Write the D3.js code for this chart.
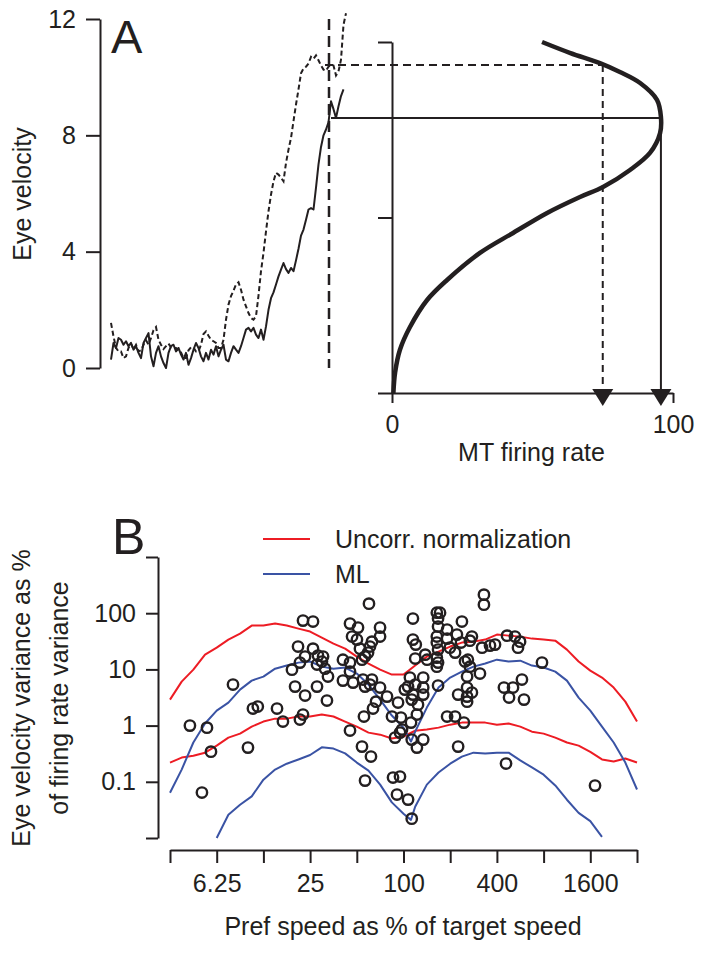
<!DOCTYPE html>
<html><head><meta charset="utf-8">
<script src="https://cdn.jsdelivr.net/npm/d3@7/dist/d3.min.js"></script>
<style>
body{margin:0;background:#fff}
svg text{font-family:"Liberation Sans",Arial,Helvetica,sans-serif;fill:#231f20}
</style>
</head><body>
<svg id="chart" width="704" height="954"></svg>
<script>
// ---------------- Panel A data ----------------
const sampleStepMs = 2.5;           // eye-velocity samples every 2.5 ms
const solidVelocity = [0.29,0.86,0.69,1.03,0.97,0.80,0.92,0.75,0.86,0.63,0.75,0.52,0.34,0.86,1.03,1.20,0.40,0.06,0.52,0.75,
  0.40,0.17,0.00,0.52,0.75,0.80,0.57,0.69,0.46,0.29,0.52,0.11,0.34,0.63,0.86,0.69,0.40,0.23,0.52,0.29,
  0.63,0.46,0.75,0.40,0.63,0.80,0.29,0.23,0.52,0.75,0.63,0.52,0.75,1.03,1.32,1.38,1.26,1.38,1.15,1.03,
  1.32,0.97,1.43,2.00,2.40,2.60,2.87,3.15,3.38,3.61,3.40,3.27,3.44,3.33,3.70,4.10,4.55,4.76,5.10,5.45,
  5.50,5.45,6.20,7.00,7.60,8.00,8.20,8.45,9.17,8.90,8.60,9.00,9.35,9.58];
const dashedVelocity = [1.55,1.09,0.69,0.57,0.57,0.34,0.40,0.69,0.84,0.65,0.80,0.57,0.61,0.80,0.95,0.80,1.03,1.30,1.41,0.97,
  0.80,0.65,0.75,0.84,0.71,0.69,0.69,0.60,0.54,0.34,0.34,0.61,0.71,0.71,0.57,0.57,0.80,1.17,1.26,1.11,
  0.97,0.92,0.86,0.69,0.69,0.97,1.66,2.18,2.47,2.66,2.87,2.95,2.69,2.35,2.12,1.89,1.72,1.66,1.78,2.49,
  3.33,3.96,4.70,5.39,5.96,6.42,6.71,6.65,6.54,6.42,7.05,7.51,7.91,8.49,9.06,9.58,10.13,10.30,10.36,10.47,
  10.70,10.63,10.75,10.58,10.40,10.26,10.22,10.36,10.42,10.40,10.06,10.20,10.60,11.80,12.20];
const velocityTicks = [0, 4, 8, 12];
const readoutTimeMs = 218;
const solidReadout = {velocity: 8.6, rate: 95.7};
const dashedReadout = {velocity: 10.42, rate: 75};
const tuningRate  = [0.5, 1.1, 2.8, 6.4, 12.5, 19.6, 31.3, 43.1, 55.2, 66.9, 75.1, 84.7, 91.8, 95.4, 95.7, 94.3, 88.3, 81.1, 74.0, 63.5, 53.4];
const tuningSpeed = [0.0, 0.116, 0.245, 0.376, 0.530, 0.644, 0.798, 0.912, 1.026, 1.117, 1.174, 1.271, 1.368, 1.481, 1.573, 1.670, 1.766, 1.829, 1.880, 1.937, 2.0];
const tuningSpeedTicks = [0, 1, 2];
const rateTicks = [0, 100];
const arrowTipSpeed = -0.074;

// ---------------- Panel B data ----------------
const prefSpeedTicks = [3.125, 6.25, 12.5, 25, 50, 100, 200, 400, 800, 1600, 3200];
const prefSpeedLabels = {"6.25":"6.25","25":"25","100":"100","400":"400","1600":"1600"};
const varianceTicks = [0.01, 0.1, 1, 10, 100, 1000];
const varianceLabels = {"0.1":"0.1","1":"1","10":"10","100":"100"};
const speedGrid = [3.125,3.716,4.419,5.256,6.25,7.433,8.839,10.51,12.5,14.87,17.68,21.02,25,29.73,35.36,42.04,50,59.46,70.71,84.09,
  100,118.9,141.4,168.2,200,237.8,282.8,336.4,400,475.7,565.7,672.7,800,951.4,1131,1345,1600,1903,2263,2691,3200];
const uncorrUpper = [2.9,6.07,9.9,18.3,24.4,33.9,43.4,60.2,60.2,65.3,60.2,53.2,47.1,36.8,28.8,23.4,16.9,12.7,9.9,8.08,
  8.08,11.7,16.9,20.7,25.5,30.0,31.2,33.9,41.6,39.9,38.3,35.3,33.9,32.5,22.5,13.8,9.5,7.15,4.75,2.67,1.18];
const uncorrLower = [0.22,0.27,0.29,0.33,0.44,0.61,0.72,0.96,1.18,1.33,1.33,1.45,1.45,1.57,1.45,1.18,0.96,0.75,0.69,0.59,
  0.64,0.81,0.85,0.92,1.04,1.13,1.13,1.13,1.04,1.09,0.96,0.78,0.72,0.61,0.50,0.44,0.34,0.25,0.23,0.26,0.22];
const mlSpeeds = [3.125,3.716,4.419,5.256,6.25,7.433,8.839,10.51,12.5,14.87,17.68,21.02,25,29.73,35.36,42.04,50,59.46,70.71,84.09,
  100,111.7,118.9,141.4,168.2,200,237.8,282.8,336.4,400,475.7,565.7,672.7,800,951.4,1131,1345,1600,1903,2263,2691,3200];
const mlUpper = [0.064,0.165,0.50,1.09,1.85,2.57,4.37,6.32,7.45,10.3,11.7,13.2,13.8,11.2,10.3,10.8,8.42,5.37,2.90,1.51,
  0.92,0.52,0.78,2.09,4.75,7.15,9.14,11.2,12.7,14.9,13.8,14.3,11.7,10.8,9.14,6.32,3.15,1.85,0.96,0.50,0.22,0.073];
const mlLower = [null,null,null,null,0.01,0.026,0.039,0.055,0.109,0.165,0.21,0.25,0.30,0.41,0.39,0.32,0.22,0.158,0.089,0.043,
  0.027,0.021,0.036,0.089,0.146,0.21,0.28,0.33,0.32,0.33,0.33,0.24,0.18,0.134,0.086,0.048,0.028,0.020,0.0105,null,null,null];
const neurons = [[4.20,1.0],[5.41,0.92],[5.74,0.344],[5.02,0.0643],[7.96,5.37],[9.94,0.406],[10.7,2.01],[11.5,2.18],[15.3,2.01],[16.7,1.18],
  [19.1,9.9],[20.9,25.5],[21.5,13.2],[22.5,73.8],[26.1,70.9],[26.1,23.4],[23.2,16.9],[28.1,17.6],[30.3,16.9],[27.7,12.2],[29.8,13.8],[31.2,10.3],[32.6,7.45],[20.0,4.94],[23.2,3.42],[27.7,4.94],[32.1,2.79],[21.5,1.28],[22.5,1.57],
  [45.2,65.3],[50.9,55.4],[59.9,148],[70.6,55.4],[46.6,38.4],[50.1,33.9],[62.6,31.2],[70.6,38.4],[60.8,25.5],[52.4,23.4],[59.1,19.9],[56.5,16.9],[40.7,14.9],[54.0,14.9],[45.2,13.2],[45.2,9.14],[40.7,6.32],[47.3,5.82],[54.8,6.59],[56.5,4.94],[62.6,6.59],[60.8,5.37],[70.6,4.75],[78.3,3.28],[66.5,2.67],[63.6,2.01],[55.6,1.45],[45.2,0.815],[54.0,0.423],[61.7,0.281],[56.5,0.105],
  [92.2,2.57],[84.3,1.45],[96.3,1.39],[111.8,1.13],[122,1.57],[94.9,0.75],[88.2,0.611],[113,0.563],[134,0.563],[122,0.406],[85.6,0.119],[94.9,0.124],[90.8,0.0592],[107,0.0482],[113,0.0221],[110,7.15],[134,7.15],[107,4.94],[119,5.37],[102,4.37],[134,4.75],[115,3.56],[134,3.56],[113,2.90],[124,2.36],
  [115,80.2],[164,102],[172,102],[167,80.2],[167,57.8],[191,51.1],[238,70.9],[115,33.9],[120,27.6],[164,38.4],[164,30.0],[191,35.3],[199,24.4],[221,41.6],[235,30.0],[276,38.4],[215,19.9],[167,22.5],[119,15.6],[138,18.3],[142,14.9],[164,16.2],[167,13.2],[164,11.2],[249,13.8],[260,14.9],[257,7.45],[257,4.75],[257,3.28],[257,2.67],[276,3.87],[225,3.56],[167,5.15],[191,1.45],[215,1.45],[245,1.13],[225,0.423],
  [330,214],[330,142],[268,32.5],[321,24.4],[361,26.5],[389,27.6],[465,39.9],[523,38.4],[564,31.2],[547,24.4],[268,11.2],[311,8.42],[781,13.2],[444,4.75],[508,4.75],[580,6.59],[479,3.15],[598,2.90],[458,0.211],[1716,0.0855],[97.8,0.849]];
const legendItems = [{label:"Uncorr. normalization", color:"#ed1c24"}, {label:"ML", color:"#3a53a4"}];

// ---------------- drawing ----------------
const svg = d3.select("#chart");
const FS = 25;
const ink = "#231f20";

// Panel A scales
const tScale = d3.scaleLinear().domain([0, 240]).range([111, 351]);
const vScale = d3.scaleLinear().domain([0, 12]).range([368, 19]);
const rateScale = d3.scaleLinear().domain([0, 100]).range([392, 673]);
const sScale = d3.scaleLinear().domain([0, 2]).range([393, 42]);

function styleAxis(g, fontSize) {
  g.selectAll("path.domain").attr("stroke", ink).attr("stroke-width", 2);
  g.selectAll(".tick line").attr("stroke", ink).attr("stroke-width", 2);
  g.selectAll(".tick text").attr("font-size", fontSize).attr("fill", ink)
    .style("font-family", '"Liberation Sans",Arial,sans-serif');
}

// left velocity axis
const gA = svg.append("g").attr("transform", `translate(${tScale.range()[0] - 11},0)`);
gA.call(d3.axisLeft(vScale).tickValues(velocityTicks).tickSize(14).tickSizeOuter(0).tickPadding(10).tickFormat(d3.format("d")));
styleAxis(gA, FS);

svg.append("text").attr("transform", `translate(31,194) rotate(-90)`)
  .attr("text-anchor", "middle").attr("font-size", FS).text("Eye velocity");
svg.append("text").attr("x", 111).attr("y", 53).attr("font-size", 47).text("A");

// traces
const traceLine = d3.line().x((d, i) => tScale(i * sampleStepMs)).y(d => vScale(d));
svg.append("path").datum(solidVelocity).attr("d", traceLine)
  .attr("fill", "none").attr("stroke", ink).attr("stroke-width", 2).attr("stroke-linejoin", "round");
svg.append("path").datum(dashedVelocity).attr("d", traceLine)
  .attr("fill", "none").attr("stroke", ink).attr("stroke-width", 2).attr("stroke-dasharray", "5,3");

// readout vertical dashed line
svg.append("line").attr("x1", tScale(readoutTimeMs)).attr("x2", tScale(readoutTimeMs))
  .attr("y1", vScale(12)).attr("y2", vScale(0))
  .attr("stroke", ink).attr("stroke-width", 2.5).attr("stroke-dasharray", "11,6");

// right (tuning) axes
const gR = svg.append("g").attr("transform", `translate(${rateScale(0)},0)`);
gR.call(d3.axisLeft(sScale).tickValues(tuningSpeedTicks).tickSize(14).tickSizeOuter(0).tickFormat(""));
styleAxis(gR, FS);
const gRx = svg.append("g").attr("transform", `translate(0,${sScale(0)})`);
gRx.call(d3.axisBottom(rateScale).tickValues(rateTicks).tickSize(10).tickSizeOuter(0).tickPadding(12).tickFormat(d3.format("d")));
styleAxis(gRx, FS);
svg.append("text").attr("x", (rateScale(0) + rateScale(100)) / 2 - 1).attr("y", 461)
  .attr("text-anchor", "middle").attr("font-size", FS).text("MT firing rate");

// readout lines + arrows
const arrowH = 17;
function readout(r, dashed) {
  const y = vScale(r.velocity), x = rateScale(r.rate);
  const tip = sScale(arrowTipSpeed);
  const dash = dashed ? "8,5" : null;
  svg.append("line").attr("x1", tScale(readoutTimeMs) + (dashed ? -4 : 2)).attr("x2", x)
    .attr("y1", y).attr("y2", y).attr("stroke", ink).attr("stroke-width", 2).attr("stroke-dasharray", dash);
  svg.append("line").attr("x1", x).attr("x2", x).attr("y1", y).attr("y2", tip - arrowH)
    .attr("stroke", ink).attr("stroke-width", 2).attr("stroke-dasharray", dashed ? "7,5" : null);
  svg.append("path").attr("d", `M${x - 10.5},${tip - arrowH}L${x + 10.5},${tip - arrowH}L${x},${tip}Z`).attr("fill", ink);
}
readout(dashedReadout, true);
readout(solidReadout, false);

// tuning curve
const tuning = d3.zip(tuningRate, tuningSpeed);
svg.append("path").datum(tuning)
  .attr("d", d3.line().x(d => rateScale(d[0])).y(d => sScale(d[1])).curve(d3.curveCatmullRom.alpha(0.5)))
  .attr("fill", "none").attr("stroke", ink).attr("stroke-width", 4.5).attr("stroke-linecap", "butt");

// ---------------- Panel B ----------------
const xB = d3.scaleLog().base(2).domain([3.125, 3200]).range([170, 637]);
const yB = d3.scaleLog().domain([0.01, 1000]).range([838, 557]);

const gBy = svg.append("g").attr("transform", "translate(158,0)");
gBy.call(d3.axisLeft(yB).tickValues(varianceTicks).tickSize(12).tickSizeOuter(0).tickPadding(10)
  .tickFormat(d => varianceLabels[String(d)] || ""));
styleAxis(gBy, FS);
const gBx = svg.append("g").attr("transform", "translate(0,850)");
gBx.call(d3.axisBottom(xB).tickValues(prefSpeedTicks).tickSize(13).tickSizeOuter(0).tickPadding(11)
  .tickFormat(d => prefSpeedLabels[String(d)] || ""));
styleAxis(gBx, FS);

svg.append("text").attr("x", 403).attr("y", 935).attr("text-anchor", "middle").attr("font-size", FS)
  .text("Pref speed as % of target speed");
const yt = svg.append("text").attr("transform", "translate(0,698) rotate(-90)").attr("text-anchor", "middle").attr("font-size", FS);
yt.append("tspan").attr("x", 0).attr("y", 30).text("Eye velocity variance as %");
yt.append("tspan").attr("x", 0).attr("y", 68).text("of firing rate variance");
svg.append("text").attr("x", 112).attr("y", 554).attr("font-size", 50).text("B");

// legend
legendItems.forEach((it, i) => {
  const y = 539 + i * 35;
  svg.append("line").attr("x1", 263).attr("x2", 310).attr("y1", y).attr("y2", y)
    .attr("stroke", it.color).attr("stroke-width", 2.2);
  svg.append("text").attr("x", 335).attr("y", y + 9).attr("font-size", FS).text(it.label);
});

const lineB = d3.line().defined(d => d[1] != null).x(d => xB(d[0])).y(d => yB(d[1]));
const curves = [
  {speeds: speedGrid, vals: uncorrUpper, color: legendItems[0].color},
  {speeds: speedGrid, vals: uncorrLower, color: legendItems[0].color},
  {speeds: mlSpeeds, vals: mlUpper, color: legendItems[1].color},
  {speeds: mlSpeeds, vals: mlLower, color: legendItems[1].color}
];
curves.forEach(c => {
  svg.append("path").datum(d3.zip(c.speeds, c.vals)).attr("d", lineB)
    .attr("fill", "none").attr("stroke", c.color).attr("stroke-width", 2).attr("stroke-linejoin", "round");
});

svg.append("g").selectAll("circle").data(neurons).join("circle")
  .attr("cx", d => xB(d[0])).attr("cy", d => yB(d[1])).attr("r", 5.2)
  .attr("fill", "none").attr("stroke", ink).attr("stroke-width", 2.4);
</script>
</body></html>
